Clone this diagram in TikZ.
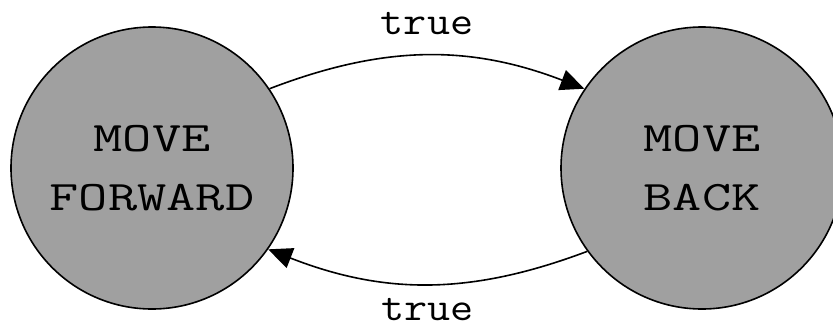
\documentclass[tikz,border=0pt]{standalone}
\usepackage{graphicx}
\usetikzlibrary{arrows.meta}

\definecolor{stategray}{RGB}{160,160,160}
\newcommand{\widetxt}[2]{\scalebox{#1}[1]{#2}}

\begin{document}
\begin{tikzpicture}[x=0.5pt,y=0.5pt,
    state/.style={circle,draw,line width=0.8pt,fill=stategray,inner sep=0pt,
        minimum size=141pt,align=center,
        font=\fontsize{21}{28.5}\selectfont\ttfamily},
    trans/.style={line width=0.8pt,-{Triangle[length=12pt,width=10.5pt]},bend left=21},
    lbl/.style={inner sep=0pt,font=\fontsize{20}{24}\selectfont\ttfamily}]
    \useasboundingbox (0,0) rectangle (833,328);

    \node[state] (fwd) at (152,160) {\widetxt{1.35}{MOVE}\\[1pt]\widetxt{1.35}{FORWARD}};
    \node[state] (back) at (702,160) {\widetxt{1.35}{MOVE}\\[1pt]\widetxt{1.35}{BACK}};

    \draw[trans] (fwd.34) to node[lbl,above=10pt] (t1) {\widetxt{1.12}{true}} (back.146);
    \draw[trans] (back.216) to node[lbl,below=7pt] (t2) {\widetxt{1.12}{true}} (fwd.325);
\end{tikzpicture}
\end{document}
